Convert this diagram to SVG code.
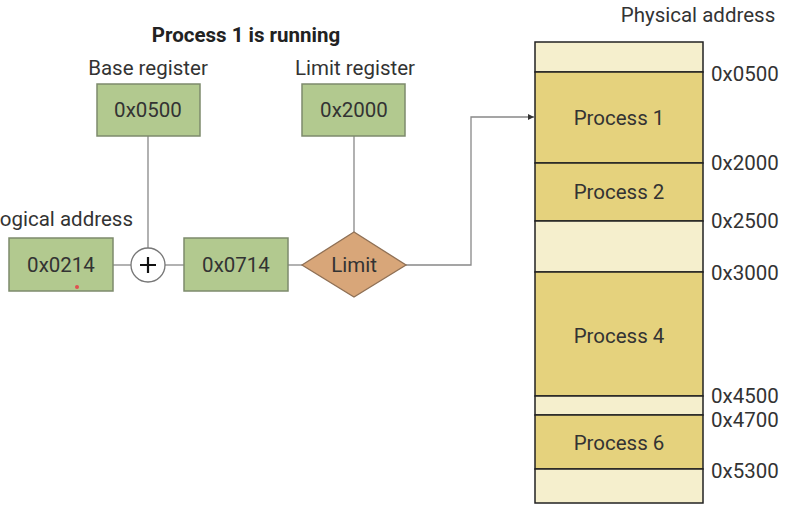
<svg xmlns="http://www.w3.org/2000/svg" width="792" height="507" viewBox="0 0 792 507">
<defs>
<style>
text{font-family:Roboto,"Liberation Sans",sans-serif;fill:#333;font-size:20.5px}
.t{font-weight:bold;fill:#222}
.g{fill:#b2c98f;stroke:#7d8a6c;stroke-width:1.5}
.p{fill:#e5d27d;stroke:#222;stroke-width:1.5}
.f{fill:#f5efcd;stroke:#222;stroke-width:1.5}
.c{fill:none;stroke:#888;stroke-width:1.3}
</style>
<marker id="ah" markerWidth="6" markerHeight="6" refX="6" refY="3" orient="auto" markerUnits="userSpaceOnUse"><path d="M0,0 L6,3 L0,6 z" fill="#333"/></marker>
</defs>
<rect width="792" height="507" fill="#fff"/>
<text class="t" x="246" y="42" text-anchor="middle">Process 1 is running</text>
<g id="connectors">
<path class="c" d="M148,136 V248"/>
<path class="c" d="M354,136 V232"/>
<path class="c" d="M113,265 H131"/>
<path class="c" d="M165,265 H184"/>
<path class="c" d="M288,265 H302"/>
<path class="c" d="M406,265 H471 V117 H534" marker-end="url(#ah)"/>
</g>
<g id="base">
<text x="148" y="75" text-anchor="middle">Base register</text>
<rect class="g" x="97" y="84" width="103" height="52"/>
<text x="148" y="117" text-anchor="middle">0x0500</text>
</g>
<g id="limitreg">
<text x="355" y="75" text-anchor="middle">Limit register</text>
<rect class="g" x="302" y="84" width="103" height="52"/>
<text x="354" y="117" text-anchor="middle">0x2000</text>
</g>
<g id="logical">
<text x="133" y="226" text-anchor="end">Logical address</text>
<rect class="g" x="9" y="238" width="104" height="53"/>
<text x="61" y="272" text-anchor="middle">0x0214</text>
<circle cx="77" cy="287" r="2" fill="#e05050"/>
</g>
<g id="adder">
<circle cx="148" cy="265" r="17" fill="#fff" stroke="#777" stroke-width="1.3"/>
<path d="M148,257 V273 M140,265 H156" stroke="#111" stroke-width="2.2"/>
</g>
<g id="sum">
<rect class="g" x="184" y="238" width="104" height="53"/>
<text x="236" y="272" text-anchor="middle">0x0714</text>
</g>
<g id="limit">
<polygon points="302,265 354,232 406,265 354,297" fill="#d8a679" stroke="#8f7055" stroke-width="1.3"/>
<text x="354" y="272" text-anchor="middle">Limit</text>
</g>
<g id="memory">
<text x="698" y="22" text-anchor="middle">Physical address</text>
<rect class="f" x="535" y="42" width="168" height="30"/>
<rect class="p" x="535" y="72" width="168" height="91"/>
<rect class="p" x="535" y="163" width="168" height="58"/>
<rect class="f" x="535" y="221" width="168" height="51"/>
<rect class="p" x="535" y="272" width="168" height="124"/>
<rect class="f" x="535" y="396" width="168" height="19"/>
<rect class="p" x="535" y="415" width="168" height="54"/>
<rect class="f" x="535" y="469" width="168" height="34"/>
<text x="619" y="125" text-anchor="middle">Process 1</text>
<text x="619" y="199" text-anchor="middle">Process 2</text>
<text x="619" y="343" text-anchor="middle">Process 4</text>
<text x="619" y="450" text-anchor="middle">Process 6</text>
<text x="711" y="81">0x0500</text>
<text x="711" y="170">0x2000</text>
<text x="711" y="228">0x2500</text>
<text x="711" y="280">0x3000</text>
<text x="711" y="403">0x4500</text>
<text x="711" y="427">0x4700</text>
<text x="711" y="478">0x5300</text>
</g>
</svg>
